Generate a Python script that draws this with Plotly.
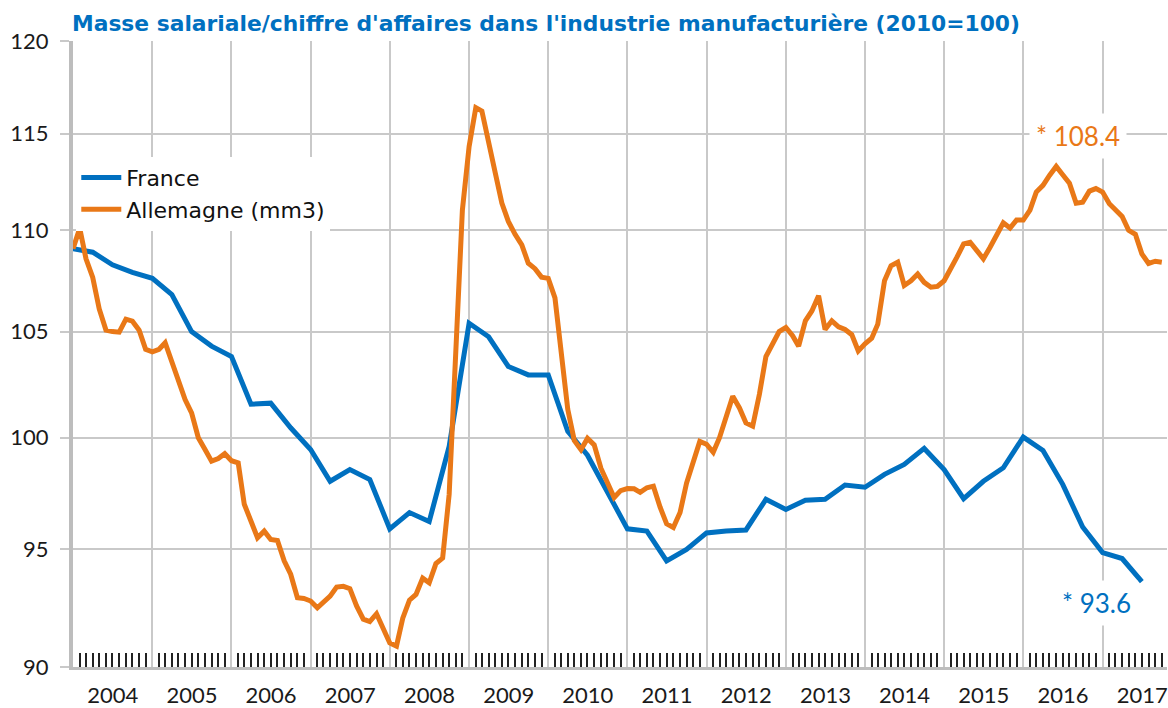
import math
import plotly.graph_objects as go
import pandas as pd

# ---- data ----
title_text = "Masse salariale/chiffre d'affaires dans l'industrie manufacturière (2010=100)"
series_names = ["France", "Allemagne (mm3)"]

# France: quarterly, 2004Q1 .. 2017Q3
france_start = "2004-01-01"
france = [
    109.07, 108.9, 108.27, 107.9,
    107.6, 106.8, 105.0, 104.3,
    103.8, 101.55, 101.6, 100.46,
    99.46, 98.02, 98.55, 98.1,
    95.9, 96.62, 96.22, 99.6,
    105.4, 104.75, 103.33, 102.93,
    102.93, 100.3, 99.2, 97.5,
    95.9, 95.8, 94.5, 95.0,
    95.72, 95.8, 95.85, 97.21,
    96.76, 97.17, 97.21, 97.85,
    97.75, 98.33, 98.78, 99.51,
    98.55, 97.24, 98.02, 98.63,
    100.03, 99.42, 97.88, 95.98,
    94.86, 94.6, 93.6,
]

# Allemagne: monthly (3-month moving average), 2004-01 .. 2017-10
germany_start = "2004-01-01"
germany = [
    109.07, 110.1, 108.57, 107.64, 106.1, 105.07, 105.0, 104.97, 105.6, 105.5, 105.07, 104.15,
    104.03, 104.15, 104.46, 103.59, 102.71, 101.77, 101.15, 100.0, 99.46, 98.93, 99.05, 99.27,
    98.95, 98.85, 96.99, 96.24, 95.51, 95.8, 95.43, 95.39, 94.5, 93.92, 92.91, 92.88,
    92.77, 92.48, 92.7, 92.98, 93.37, 93.4, 93.3, 92.56, 92.0, 91.9, 92.23, 91.57,
    91.0, 90.87, 92.04, 92.81, 93.05, 93.75, 93.55, 94.38, 94.62, 97.43, 104.37, 111.02,
    114.32, 116.38, 116.2, 114.42, 112.98, 111.39, 110.45, 109.8, 109.27, 108.35, 108.08, 107.66,
    107.6, 106.64, 103.9, 101.32, 99.88, 99.45, 99.97, 99.67, 98.61, 97.94, 97.29, 97.6,
    97.69, 97.68, 97.52, 97.73, 97.8, 96.86, 96.12, 95.96, 96.62, 97.94, 98.94, 99.83,
    99.7, 99.33, 100.0, 100.92, 101.93, 101.38, 100.68, 100.53, 102.02, 103.8, 104.41, 105.0,
    105.2, 104.8, 104.3, 105.52, 106.0, 106.74, 105.1, 105.52, 105.23, 105.1, 104.85, 104.07,
    104.41, 104.68, 105.36, 107.48, 108.22, 108.4, 107.25, 107.48, 107.81, 107.4, 107.16, 107.2,
    107.48, 108.06, 108.65, 109.32, 109.4, 108.98, 108.57, 109.15, 109.74, 110.38, 110.12, 110.52,
    110.52, 111.03, 111.95, 112.3, 112.81, 113.28, 112.85, 112.41, 111.38, 111.43, 112.0, 112.13,
    111.95, 111.35, 111.05, 110.7, 110.0, 109.8, 108.82, 108.34, 108.45, 108.4,
]

y_ticks = [90, 95, 100, 105, 110, 115, 120]
y_min, y_max = 90, 120
x_range = ["2004-01-01", "2017-10-25"]

# ---- styles ----
BLUE = "#0070C0"
ORANGE = "#E97817"
GRID = "#C9C9C9"
AXIS = "#BDBDBD"
FONT = "Lato"
WIDE = "DejaVu Sans"

france_x = pd.date_range(france_start, periods=len(france), freq="QS")
germany_x = pd.date_range(germany_start, periods=len(germany), freq="MS")

fig = go.Figure()
fig.add_trace(go.Scatter(x=france_x, y=france, mode="lines", name=series_names[0],
                         line=dict(color=BLUE, width=5)))
fig.add_trace(go.Scatter(x=germany_x, y=germany, mode="lines", name=series_names[1],
                         line=dict(color=ORANGE, width=5)))

fig.add_annotation(x=germany_x[-1], y=math.log10(germany[-1]), text=f"* {germany[-1]:.1f}",
                   showarrow=False, xshift=-84, yshift=126,
                   font=dict(family=FONT, size=26, color=ORANGE),
                   bgcolor="white", borderpad=6)
fig.add_annotation(x=france_x[-1], y=math.log10(france[-1]), text=f"* {france[-1]:.1f}",
                   showarrow=False, xshift=-45, yshift=-21,
                   font=dict(family=FONT, size=26, color=BLUE),
                   bgcolor="white", borderpad=6)

fig.update_layout(
    width=1168, height=708,
    margin=dict(l=73, r=1, t=41, b=41, autoexpand=False),
    paper_bgcolor="white", plot_bgcolor="white",
    font=dict(family=FONT, size=22, color="#1a1a1a"),
    title=dict(text=title_text, x=72 / 1168, xanchor="left", xref="container",
               y=1 - 23 / 708, yanchor="middle", yref="container",
               font=dict(family=WIDE, size=21.8, color=BLUE, weight="bold")),
    showlegend=True,
    legend=dict(x=0.003, y=0.815, xanchor="left", yanchor="top",
                bgcolor="white", font=dict(family=WIDE, size=22, color="#111111"),
                tracegroupgap=0, itemwidth=40),
    xaxis=dict(type="date", range=x_range, dtick="M12", tick0="2004-01-01",
               tickformat="%Y", ticklabelmode="period", ticks="", automargin=False,
               ticklabelstandoff=7,
               showgrid=True, gridcolor=GRID, gridwidth=2,
               showline=True, linecolor=AXIS, linewidth=3,
               tickfont=dict(family=FONT, size=22, color="#1a1a1a"),
               minor=dict(dtick="M1", tick0="2004-01-01", ticks="inside", ticklen=14,
                          tickwidth=1.5, tickcolor="#222222", showgrid=False)),
    yaxis=dict(type="log", range=[math.log10(y_min), math.log10(y_max)], tickvals=y_ticks,
               ticktext=[str(v) for v in y_ticks], automargin=False,
               ticklabelstandoff=7,
               showgrid=True, gridcolor=GRID, gridwidth=2,
               ticks="outside", ticklen=9, tickwidth=2, tickcolor=GRID,
               showline=True, linecolor=AXIS, linewidth=4,
               tickfont=dict(family=FONT, size=22, color="#1a1a1a")),
)

fig.write_html("out.html", config={"displayModeBar": False},
               post_script="document.body.style.margin='0px';")
